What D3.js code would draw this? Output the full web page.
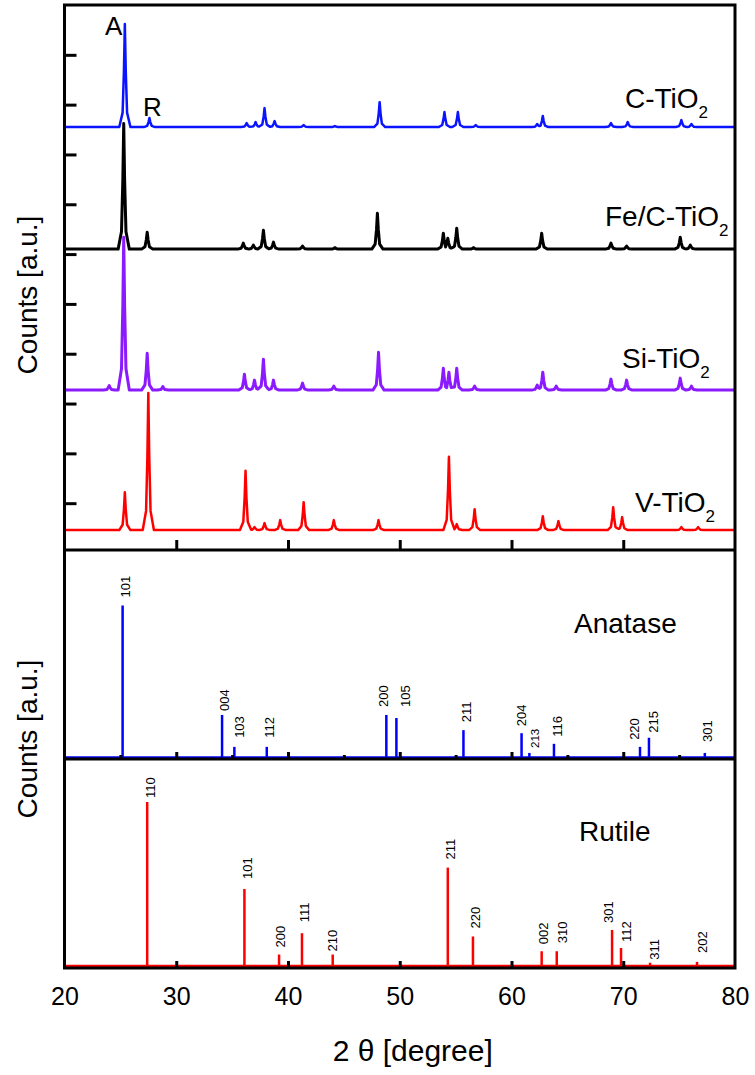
<!DOCTYPE html>
<html>
<head>
<meta charset="utf-8">
<title>XRD patterns of doped TiO2</title>
<script src="https://d3js.org/d3.v7.min.js"></script>
<style>
body { margin: 0; background: #fff; }
svg { font-family: "Liberation Sans", Arial, sans-serif; }
.frame { fill: none; stroke: #000; stroke-width: 3; }
.sep { stroke: #000; stroke-width: 3; }
.tick-in line { stroke: #000; stroke-width: 3; }
.tick-in path { display: none; }
.xlab path { display: none; }
.xlab text { font-size: 25px; fill: #000; }
.trace { fill: none; stroke-linejoin: round; }
.hkl { font-size: 13px; fill: #000; }
</style>
</head>
<body>
<svg id="chart" width="755" height="1075"></svg>
<script>
// ---- data ----
// measured patterns: peak position (2 theta) and peak top (counts), flat background
var cPos  = [25.4, 27.6, 36.3, 37.1, 37.9, 38.8, 41.4, 44.2, 48.2, 54.0, 55.2, 56.8, 62.3, 62.8, 68.9, 70.4, 75.2, 76.1];
var cTop  = [1062, 873, 863, 865, 893, 867, 859, 857, 905, 885, 885, 859, 861, 877, 863, 865, 869, 861];
var cBase = 855;

var fePos  = [25.3, 27.4, 36.0, 36.9, 37.8, 38.7, 41.3, 44.2, 48.0, 53.9, 54.3, 55.1, 56.6, 62.7, 68.9, 70.3, 75.1, 76.0];
var feTop  = [862, 644, 622, 618, 648, 624, 616, 613, 682, 642, 632, 652, 613, 642, 622, 616, 634, 618];
var feBase = 610;

var siPos  = [24.0, 25.3, 27.4, 28.8, 36.1, 37.0, 37.8, 38.7, 41.3, 44.1, 48.1, 53.9, 54.4, 55.1, 56.7, 62.3, 62.8, 64.0, 68.9, 70.3, 75.1, 76.1];
var siTop  = [336, 634, 401, 334, 359, 347, 389, 347, 341, 335, 403, 371, 363, 371, 335, 337, 363, 335, 349, 347, 351, 335];
var siBase = 327;

var vPos  = [25.4, 27.5, 36.2, 37.0, 37.9, 39.3, 41.4, 44.1, 48.1, 54.4, 55.1, 56.7, 62.8, 64.2, 69.1, 69.9, 75.2, 76.7];
var vTop  = [122, 321, 165, 52, 60, 66, 102, 66, 66, 193, 58, 88, 74, 64, 92, 72, 52, 52];
var vBase = 46;

// reference sticks (relative intensity, %)
var anaPos = [25.2, 34.1, 35.2, 38.1, 48.8, 49.7, 55.7, 60.9, 61.6, 63.8, 71.5, 72.3, 77.3];
var anaInt = [100, 28, 7, 7, 28, 26, 18, 16, 3, 9, 7, 13, 3];
var anaHkl = ["101", "004", "103", "112", "200", "105", "211", "204", "213", "116", "220", "215", "301"];

var rutPos = [27.4, 36.1, 39.2, 41.25, 44.0, 54.3, 56.55, 62.7, 64.05, 69.0, 69.8, 72.4, 76.6];
var rutInt = [100, 47, 7, 20, 7, 60, 18, 9, 9, 22, 11, 2, 2.5];
var rutHkl = ["110", "101", "200", "111", "210", "211", "220", "002", "310", "301", "112", "311", "202"];

var xTicks = [20, 30, 40, 50, 60, 70, 80];

// ---- layout ----
var L = 64.5, R = 735, T = 5, B1 = 550, B2 = 759, B3 = 968;

var x = d3.scaleLinear().domain([20, 80]).range([L, R]);
var yTop = d3.scaleLinear().domain([0, 1100]).range([553, T]);
var yAna = d3.scaleLinear().domain([0, 100]).range([757.5, 605.5]);
var yRut = d3.scaleLinear().domain([0, 100]).range([966, 802]);

// label nudges (px): centre offset from stick, gap above stick
var anaDx  = [3, 2, 5, 3, -3, 9, 3, 0, 5, 3, -6, 4, 3];
var anaGap = [8, 4, 9, 9, 8, 11, 8, 7, 5, 7, 7, 5, 11];
var rutDx  = [3, 3, 1, 2, 0, 3, 2, 2, 6, -4, 5, 4, 5];
var rutGap = [4, 10, 7, 11, 3, 8, 8, 7, 8, 7, 6, 3, 9];

var svg = d3.select("#chart");

// peak glyph: narrow top, wider foot
var shapeDx = [-0.5, -0.2, -0.08, 0, 0.08, 0.2, 0.5],
	shapeFr = [0, 0.14, 0.55, 1, 0.55, 0.14, 0];

function peakFrac(d) {
	if (d <= shapeDx[0] || d >= shapeDx[shapeDx.length - 1]) return 0;
	for (var k = 0; k < shapeDx.length - 1; k++) {
		if (d >= shapeDx[k] && d <= shapeDx[k + 1]) {
			return shapeFr[k] + (shapeFr[k + 1] - shapeFr[k]) * (d - shapeDx[k]) / (shapeDx[k + 1] - shapeDx[k]);
		}
	}
	return 0;
}

function pattern(pos, top, base) {
	var xs = [20, 80];
	pos.forEach(function(p) {
		shapeDx.forEach(function(d) { xs.push(p + d); });
	});
	xs = xs.filter(function(t) { return t >= 20 && t <= 80; }).sort(d3.ascending);
	return xs.map(function(t) {
		var v = base;
		pos.forEach(function(p, i) {
			v = Math.max(v, base + (top[i] - base) * peakFrac(t - p));
		});
		return [t, v];
	});
}

var line = d3.line()
	.x(function(d) { return x(d[0]); })
	.y(function(d) { return yTop(d[1]); });

// draw order: red under purple under black under blue
var series = [
	{pos: vPos, top: vTop, base: vBase, color: "#ff0000", w: 2.5},
	{pos: siPos, top: siTop, base: siBase, color: "#8c1aff", w: 3},
	{pos: fePos, top: feTop, base: feBase, color: "#000000", w: 3},
	{pos: cPos, top: cTop, base: cBase, color: "#0a14ff", w: 2.5}
];

svg.append("g").selectAll("path")
	.data(series)
	.join("path")
		.attr("class", "trace")
		.attr("stroke", function(d) { return d.color; })
		.attr("stroke-width", function(d) { return d.w; })
		.attr("d", function(d) { return line(pattern(d.pos, d.top, d.base)); });

// series names
var names = [
	{main: "C-TiO", x: 625, y: 108},
	{main: "Fe/C-TiO", x: 605, y: 226},
	{main: "Si-TiO", x: 622, y: 368},
	{main: "V-TiO", x: 635, y: 512}
];
var nm = svg.append("g").selectAll("text")
	.data(names)
	.join("text")
		.attr("x", function(d) { return d.x; })
		.attr("y", function(d) { return d.y; })
		.style("font-size", "28px");
nm.append("tspan").text(function(d) { return d.main; });
nm.append("tspan").attr("dy", 10).style("font-size", "17px").text("2");

svg.append("text").attr("x", 105).attr("y", 35).style("font-size", "26px").text("A");
svg.append("text").attr("x", 143).attr("y", 116).style("font-size", "26px").text("R");

// ---- stick panels ----
function sticks(pos, inten, hkl, dxs, gaps, yS, color, base) {
	var g = svg.append("g");
	g.append("line")
		.attr("x1", x(20)).attr("x2", x(80))
		.attr("y1", yS(0)).attr("y2", yS(0))
		.attr("stroke", color).attr("stroke-width", 2.5);
	g.selectAll("line.stick")
		.data(pos)
		.join("line")
			.attr("class", "stick")
			.attr("x1", function(d) { return x(d); })
			.attr("x2", function(d) { return x(d); })
			.attr("y1", yS(0))
			.attr("y2", function(d, i) { return yS(inten[i]); })
			.attr("stroke", color).attr("stroke-width", 2.5);
	g.selectAll("text")
		.data(pos)
		.join("text")
			.attr("class", "hkl")
			.style("font-size", function(d, i) { return hkl[i] === "213" ? "11.5px" : null; })
			.attr("transform", function(d, i) {
				var bx = x(d) + dxs[i] + 4.6,
					by = yS(inten[i]) - gaps[i];
				return "translate(" + bx + "," + by + ") rotate(-90)";
			})
			.text(function(d, i) { return hkl[i]; });
}

sticks(anaPos, anaInt, anaHkl, anaDx, anaGap, yAna, "#0000ff");
sticks(rutPos, rutInt, rutHkl, rutDx, rutGap, yRut, "#ff0000");

svg.append("text").attr("x", 574).attr("y", 633).style("font-size", "28px").text("Anatase");
svg.append("text").attr("x", 579).attr("y", 841).style("font-size", "28px").text("Rutile");

// ---- inward ticks ----
svg.append("g")
	.attr("class", "tick-in")
	.attr("transform", "translate(" + L + ",0)")
	.call(d3.axisLeft(yTop).tickValues(d3.range(100, 1001, 100)).tickSize(-12).tickFormat(""));

svg.append("g")
	.attr("class", "tick-in")
	.attr("transform", "translate(0," + B1 + ")")
	.call(d3.axisBottom(x).tickValues([30, 40, 50, 60, 70]).tickSize(-10).tickFormat(""));

svg.append("g")
	.attr("class", "tick-in")
	.attr("transform", "translate(0," + (B2 - 1) + ")")
	.call(d3.axisBottom(x).tickValues([30, 40, 50, 60, 70]).tickSize(-6).tickFormat(""));

svg.append("g")
	.attr("class", "tick-in")
	.attr("transform", "translate(0," + (B2 - 1) + ")")
	.call(d3.axisBottom(x).tickValues([25, 35, 45, 55, 65, 75]).tickSize(-3).tickFormat(""));

svg.append("g")
	.attr("class", "tick-in")
	.attr("transform", "translate(0," + (B3 - 1) + ")")
	.call(d3.axisBottom(x).tickValues([30, 40, 50, 60, 70]).tickSize(-6).tickFormat(""));

// frame and panel separators
svg.append("rect").attr("class", "frame")
	.attr("x", L).attr("y", T).attr("width", R - L).attr("height", B3 - T);
svg.append("line").attr("class", "sep").attr("x1", L).attr("x2", R).attr("y1", B1).attr("y2", B1);
svg.append("line").attr("class", "sep").attr("x1", L).attr("x2", R).attr("y1", B2).attr("y2", B2);

// tick labels and titles
svg.append("g")
	.attr("class", "xlab")
	.attr("transform", "translate(0," + B3 + ")")
	.call(d3.axisBottom(x).tickValues(xTicks).tickSize(0).tickPadding(19));

svg.append("text")
	.attr("x", (L + R) / 2 + 13).attr("y", 1061)
	.attr("text-anchor", "middle")
	.style("font-size", "30px")
	.text("2 \u03b8 [degree]");

svg.append("text")
	.attr("transform", "translate(37,295) rotate(-90)")
	.attr("text-anchor", "middle")
	.style("font-size", "28px")
	.text("Counts [a.u.]");

svg.append("text")
	.attr("transform", "translate(37,739) rotate(-90)")
	.attr("text-anchor", "middle")
	.style("font-size", "28px")
	.text("Counts [a.u.]");
</script>
</body>
</html>
